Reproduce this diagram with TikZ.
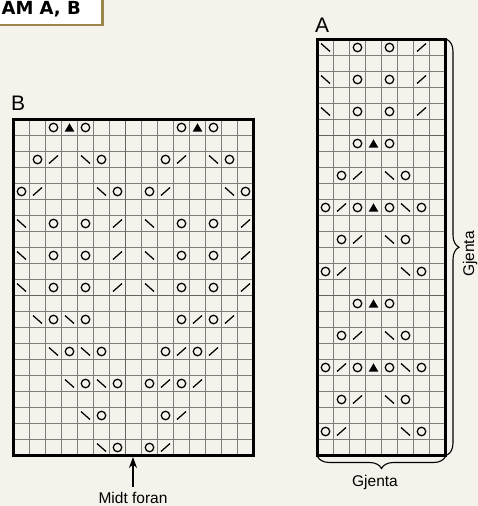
\documentclass[tikz,border=0pt]{standalone}
\usepackage{fontspec}
\setmainfont{Liberation Sans}
\newfontfamily\headfont{DejaVu Sans}
\usepackage{tikz}
\usetikzlibrary{positioning,arrows.meta,decorations.pathreplacing,shapes.geometric}
\usepackage{xcolor}
\definecolor{paper}{RGB}{245,242,235}
\definecolor{gridgray}{RGB}{125,125,125}
\definecolor{midgray}{RGB}{100,100,100}
\definecolor{gold}{RGB}{155,135,75}

\begin{document}
\begin{tikzpicture}[
    x=1pt, y=-1pt,
    cellline/.style={draw=gridgray, line width=0.9pt},
    midline/.style={draw=midgray, line width=1.7pt},
    frame/.style={draw=black, line width=3.2pt},
    yo/.style={circle, draw, line width=1.25pt, minimum size=8.5pt, inner sep=0pt},
    tri/.style={regular polygon, regular polygon sides=3, fill=black,
                minimum size=11pt, inner sep=0pt, yshift=-1.3pt},
    dec/.style={line width=1.25pt},
    lbl/.style={font=\fontsize{15.5}{18}\selectfont, inner sep=0pt},
    chartname/.style={font=\fontsize{21}{24}\selectfont, inner sep=0pt, anchor=base west},
    brc/.style={decorate, decoration={brace, amplitude=12pt}, line width=1.1pt},
    arr/.style={-{Stealth[length=11pt, width=8pt]}, line width=2pt}
  ]
  \useasboundingbox (0,0) rectangle (478,506);
  \clip (0,0) rectangle (478,506);
  \fill[paper] (0,0) rectangle (478,506);

  % Heading
  \draw[draw=gold, fill=white, line width=2.6pt] (-10,-10) rectangle (102.5,25);
  \node[font=\headfont\bfseries\fontsize{18}{21}\selectfont, anchor=base east,
        inner sep=0pt] (title) at (81,14.5) {AM A, B};

  % Chart B
  \node[chartname] (nameb) at (11,110) {B};
  \begin{scope}[shift={(13.5,119.5)}, x=16pt, y=-16pt]
    \foreach \i in {1,...,14} \draw[cellline] (\i,0) -- (\i,21);
    \foreach \j in {1,...,20} \draw[cellline] (0,\j) -- (15,\j);
    \draw[midline] (7,0) -- (7,21);
    \draw[midline] (0,11) -- (15,11);
    \draw[frame] (0,0) rectangle (15,21);
    \foreach \c/\r in {3/1,5/1,11/1,13/1, 2/3,6/3,10/3,14/3, 1/5,7/5,9/5,15/5,
        3/7,5/7,11/7,13/7, 3/9,5/9,11/9,13/9, 3/11,5/11,11/11,13/11,
        3/13,5/13,11/13,13/13, 4/15,6/15,10/15,12/15, 5/17,7/17,9/17,11/17,
        6/19,10/19, 7/21,9/21}
      \node[yo] (bo-\c-\r) at (\c-.5,\r-.5) {};
    \foreach \c/\r in {4/1,12/1}
      \node[tri] (bt-\c-\r) at (\c-.5,\r-.5) {};
    \foreach \c/\r in {3/3,11/3, 2/5,10/5, 7/7,15/7, 7/9,15/9, 7/11,15/11,
        12/13,14/13, 11/15,13/15, 10/17,12/17, 11/19, 10/21}
      \draw[dec] (\c-.5,\r-.5) +(-4.5pt,-4pt) -- +(4.5pt,4pt);
    \foreach \c/\r in {5/3,13/3, 6/5,14/5, 1/7,9/7, 1/9,9/9, 1/11,9/11,
        2/13,4/13, 3/15,5/15, 4/17,6/17, 5/19, 6/21}
      \draw[dec] (\c-.5,\r-.5) +(-4.5pt,4pt) -- +(4.5pt,-4pt);
  \end{scope}

  % Midt foran
  \coordinate (bfoot) at (133,457);
  \node[lbl, anchor=base] (midt) at (133,503.5) {Midt foran};
  \draw[arr, shorten <=5pt] (midt.north) -- (bfoot);

  % Chart A
  \node[chartname] (namea) at (315,32) {A};
  \begin{scope}[shift={(317.5,39.5)}, x=16pt, y=-16pt]
    \foreach \i in {1,...,7} \draw[cellline] (\i,0) -- (\i,26);
    \foreach \j in {1,...,25} \draw[cellline] (0,\j) -- (8,\j);
    \draw[midline] (0,6) -- (8,6);
    \draw[midline] (0,16) -- (8,16);
    \draw[frame] (0,0) rectangle (8,26);
    \foreach \c/\r in {3/1,5/1, 3/3,5/3, 3/5,5/5, 3/7,5/7, 2/9,6/9,
        1/11,3/11,5/11,7/11, 2/13,6/13, 1/15,7/15, 3/17,5/17, 2/19,6/19,
        1/21,3/21,5/21,7/21, 2/23,6/23, 1/25,7/25}
      \node[yo] (ao-\c-\r) at (\c-.5,\r-.5) {};
    \foreach \c/\r in {4/7,4/11,4/17,4/21}
      \node[tri] (at-\c-\r) at (\c-.5,\r-.5) {};
    \foreach \c/\r in {7/1,7/3,7/5, 3/9, 2/11, 3/13, 2/15, 3/19, 2/21, 3/23, 2/25}
      \draw[dec] (\c-.5,\r-.5) +(-4.5pt,-4pt) -- +(4.5pt,4pt);
    \foreach \c/\r in {1/1,1/3,1/5, 5/9, 6/11, 5/13, 6/15, 5/19, 6/21, 5/23, 6/25}
      \draw[dec] (\c-.5,\r-.5) +(-4.5pt,4pt) -- +(4.5pt,-4pt);
  \end{scope}

  % Gjenta braces
  \coordinate (atop) at (447,39.5);
  \coordinate (abot) at (447,455);
  \draw[brc] (atop) -- (abot);
  \node[lbl, anchor=base, rotate=90] (gside) at (474,254) {Gjenta};

  \coordinate (aleft) at (317.5,456.5);
  \coordinate (aright) at (445.5,456.5);
  \draw[brc] (aright) -- (aleft);
  \node[lbl, anchor=base] (gbot) at (375,486.7) {Gjenta};
\end{tikzpicture}
\end{document}
